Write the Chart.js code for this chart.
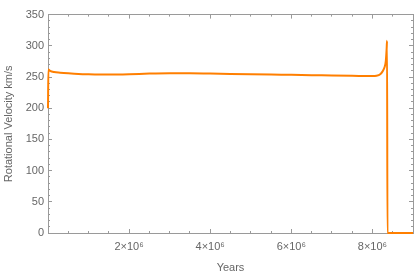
<!DOCTYPE html>
<html>
<head>
<meta charset="utf-8">
<script src="https://cdn.jsdelivr.net/npm/chart.js@4.4.0/dist/chart.umd.min.js"></script>
<style>
  html, body { margin: 0; padding: 0; background: #fff; }
  #wrap { width: 415px; height: 279px; }
</style>
</head>
<body>
<div id="wrap"><canvas id="velocityChart"></canvas></div>
<script>
// time in years, rotational velocity in km/s
const years = [0, 1e4, 5e4, 1.5e5, 3e5, 5e5, 7.5e5, 1e6, 1.5e6, 2e6, 2.5e6, 3e6, 3.5e6, 4e6,
  4.5e6, 5e6, 5.5e6, 6e6, 6.5e6, 7e6, 7.5e6, 8e6, 8.1e6, 8.2e6, 8.26e6, 8.3e6, 8.33e6,
  8.35e6, 8.36e6, 8.37e6, 8.5e6, 9e6];
const velocity = [200, 262, 260, 258, 257, 256, 255, 254.5, 254, 254.5, 255.5, 256, 256, 255.5,
  255, 254.5, 254, 253.5, 253, 252.5, 252, 251.5, 252, 255, 260, 266, 276,
  295, 308, 0, 0, 0];

const xMajor = [2e6, 4e6, 6e6, 8e6];
const xLabels = ['2×10⁶', '4×10⁶', '6×10⁶', '8×10⁶'];
const xMinor = [5e5, 1e6, 1.5e6, 2.5e6, 3e6, 3.5e6, 4.5e6, 5e6, 5.5e6, 6.5e6, 7e6, 7.5e6, 8.5e6];
const yMajor = [0, 50, 100, 150, 200, 250, 300, 350];
const yMinor = [10, 20, 30, 40, 60, 70, 80, 90, 110, 120, 130, 140, 160, 170, 180, 190,
  210, 220, 230, 240, 260, 270, 280, 290, 310, 320, 330, 340];

const gray = '#9a9a9a';
const textColor = '#666666';
const fontFamily = '"Liberation Sans", Arial, sans-serif';

// one frame axis: inward ticks (negative tickLength), no labels unless given
function frameAxis(position, range, tickValues, len, opts) {
  const horizontal = position === 'top' || position === 'bottom';
  return Object.assign({
    type: 'linear',
    position,
    min: range[0],
    max: range[1],
    weight: -1,
    afterBuildTicks: s => { s.ticks = tickValues.map(v => ({ value: v })); },
    afterFit: s => { if (horizontal) s.height = 0; else s.width = 0; },
    grid: { display: true, drawOnChartArea: false, drawTicks: true, tickLength: -len, color: gray, lineWidth: 1 },
    border: { display: false },
    ticks: { display: false }
  }, opts || {});
}

const xRange = [0, 9e6];
const yRange = [0, 350];

const ctx = document.getElementById('velocityChart').getContext('2d');
new Chart(ctx, {
  type: 'line',
  data: {
    datasets: [{
      data: years.map((x, i) => ({ x, y: velocity[i] })),
      borderColor: 'rgb(255,127,0)',
      borderWidth: 2,
      pointRadius: 0,
      fill: false,
      clip: 3,
      cubicInterpolationMode: 'monotone'
    }]
  },
  options: {
    responsive: true,
    maintainAspectRatio: false,
    animation: false,
    layout: { padding: { top: 3, right: 2, left: 0, bottom: 0 } },
    plugins: { legend: { display: false }, tooltip: { enabled: false } },
    scales: {
      x: frameAxis('bottom', xRange, xMajor, 4, {
        weight: 0,
        afterFit: s => { s.height = 46; },
        border: { display: true, color: gray, width: 1 },
        ticks: {
          display: true,
          padding: 11,
          maxRotation: 0,
          color: textColor,
          font: { family: fontFamily, size: 11 },
          callback: v => xLabels[xMajor.indexOf(v)]
        },
        title: {
          display: true,
          text: 'Years',
          color: textColor,
          font: { family: fontFamily, size: 11 },
          padding: { top: 0, bottom: 4 }
        }
      }),
      xMinor: frameAxis('bottom', xRange, xMinor, 2),
      xTop: frameAxis('top', xRange, xMajor, 4, { weight: 0, border: { display: true, color: gray, width: 1 } }),
      xTopMinor: frameAxis('top', xRange, xMinor, 2),
      y: frameAxis('left', yRange, yMajor, 4, {
        weight: 0,
        afterFit: s => { s.width = 48; },
        border: { display: true, color: gray, width: 1 },
        ticks: {
          display: true,
          padding: 8,
          color: textColor,
          font: { family: fontFamily, size: 11 }
        },
        title: {
          display: true,
          text: 'Rotational Velocity km/s',
          color: textColor,
          font: { family: fontFamily, size: 11 },
          padding: { top: 2, bottom: 0 }
        }
      }),
      yMinor: frameAxis('left', yRange, yMinor, 2),
      yRight: frameAxis('right', yRange, yMajor, 4, { weight: 0, border: { display: true, color: gray, width: 1 } }),
      yRightMinor: frameAxis('right', yRange, yMinor, 2)
    }
  }
});
</script>
</body>
</html>
